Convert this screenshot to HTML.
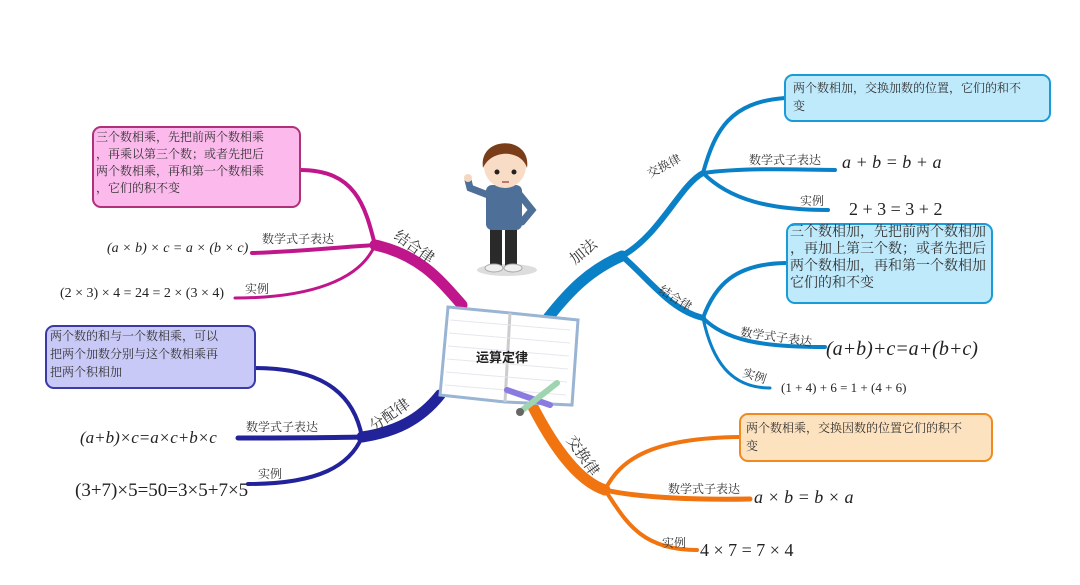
<!DOCTYPE html>
<html><head><meta charset="utf-8"><style>
html,body{margin:0;padding:0;background:#fff;}
svg{display:block;}
text{font-family:"Liberation Serif","Noto Serif CJK SC",serif;fill:#333;}
.cjk{font-family:"Liberation Sans","Noto Sans CJK SC",sans-serif;}
.m{font-family:"Liberation Serif",serif;font-style:italic;fill:#222;}
.n{font-family:"Liberation Serif",serif;fill:#222;}
</style></head><body>
<svg width="1080" height="585" viewBox="0 0 1080 585" xmlns="http://www.w3.org/2000/svg">
<g fill="none" stroke-linecap="round">
 <path d="M548 318 C570 290 590 270 622 256" stroke="#0a80c6" stroke-width="11"/>
 <path d="M622 256 C660 235 680 185 703 173" stroke="#0a80c6" stroke-width="6"/>
 <path d="M622 256 C650 280 670 310 703 318" stroke="#0a80c6" stroke-width="6"/>
 <path d="M703 173 C715 130 730 102 785 98" stroke="#0a80c6" stroke-width="4"/>
 <path d="M703 173 C740 168 790 169 835 170" stroke="#0a80c6" stroke-width="4"/>
 <path d="M703 173 C730 200 770 210 828 210" stroke="#0a80c6" stroke-width="4"/>
 <path d="M703 318 C715 285 735 264 785 263" stroke="#0a80c6" stroke-width="4"/>
 <path d="M703 318 C725 340 760 347 825 347" stroke="#0a80c6" stroke-width="4"/>
 <path d="M703 318 C712 360 730 388 770 388" stroke="#0a80c6" stroke-width="3"/>
 <path d="M532 405 C550 440 575 480 605 490" stroke="#f07410" stroke-width="11"/>
 <path d="M605 490 C620 460 650 438 740 437" stroke="#f07410" stroke-width="4"/>
 <path d="M605 490 C640 498 700 500 750 499" stroke="#f07410" stroke-width="5"/>
 <path d="M605 490 C625 520 640 550 697 550" stroke="#f07410" stroke-width="4"/>
 <path d="M462 305 C440 280 420 255 375 245" stroke="#c0168c" stroke-width="11"/>
 <path d="M375 245 C365 205 355 170 300 170" stroke="#c0168c" stroke-width="4"/>
 <path d="M375 245 C330 248 290 252 252 253" stroke="#c0168c" stroke-width="4"/>
 <path d="M375 245 C360 280 310 298 235 298" stroke="#c0168c" stroke-width="3"/>
 <path d="M440 395 C420 420 395 432 362 437" stroke="#22229a" stroke-width="11"/>
 <path d="M362 437 C355 400 330 368 255 368" stroke="#22229a" stroke-width="4"/>
 <path d="M362 437 C320 438 280 438 238 438" stroke="#22229a" stroke-width="5"/>
 <path d="M362 437 C350 465 320 484 248 484" stroke="#22229a" stroke-width="4"/>
</g>
<rect x="93" y="127" width="207" height="80" rx="8" fill="#fbb9ec" stroke="#b0307a" stroke-width="2"/>
<rect x="46" y="326" width="209" height="62" rx="8" fill="#c9c9f7" stroke="#3a3aa8" stroke-width="2"/>
<rect x="785" y="75" width="265" height="46" rx="8" fill="#bfeafb" stroke="#1a9ad6" stroke-width="2"/>
<rect x="787" y="224" width="205" height="79" rx="8" fill="#bfeafb" stroke="#1a9ad6" stroke-width="2"/>
<rect x="740" y="414" width="252" height="47" rx="8" fill="#fde2bf" stroke="#f08a20" stroke-width="2"/>
<g class="cjk" font-size="12">
 <text x="96" y="141">三个数相乘，先把前两个数相乘</text>
 <text x="96" y="158">，再乘以第三个数；或者先把后</text>
 <text x="96" y="175">两个数相乘，再和第一个数相乘</text>
 <text x="96" y="192">，它们的积不变</text>
 <text x="50" y="340">两个数的和与一个数相乘，可以</text>
 <text x="50" y="358">把两个加数分别与这个数相乘再</text>
 <text x="50" y="376">把两个积相加</text>
 <text x="793" y="92">两个数相加，交换加数的位置，它们的和不</text>
 <text x="793" y="110">变</text>
 <text x="746" y="432">两个数相乘，交换因数的位置它们的积不</text>
 <text x="746" y="450">变</text>
</g>
<g class="cjk" font-size="14">
 <text x="790" y="236">三个数相加，先把前两个数相加</text>
 <text x="790" y="253">，再加上第三个数；或者先把后</text>
 <text x="790" y="270">两个数相加，再和第一个数相加</text>
 <text x="790" y="287">它们的和不变</text>
</g>
<g class="cjk" font-size="12" fill="#444">
 <text x="749" y="164">数学式子表达</text>
 <text x="800" y="205">实例</text>
 <text x="740" y="336" transform="rotate(8 740 336)">数学式子表达</text>
 <text x="742" y="376" transform="rotate(18 742 376)">实例</text>
 <text x="668" y="493">数学式子表达</text>
 <text x="662" y="547">实例</text>
 <text x="262" y="243">数学式子表达</text>
 <text x="245" y="293">实例</text>
 <text x="246" y="431">数学式子表达</text>
 <text x="258" y="478">实例</text>
 <text x="650" y="178" transform="rotate(-28 650 178)">交换律</text>
 <text x="658" y="292" transform="rotate(32 658 292)">结合律</text>
</g>
<g class="cjk" font-size="15" fill="#333">
 <text x="575" y="265" transform="rotate(-40 575 265)">加法</text>
 <text x="566" y="440" transform="rotate(55 566 440)">交换律</text>
 <text x="393" y="238" transform="rotate(35 393 238)">结合律</text>
 <text x="374" y="432" transform="rotate(-35 374 432)">分配律</text>
</g>
<g font-size="18">
 <text class="m" x="842" y="168">a + b = b + a</text>
 <text class="n" x="849" y="215">2 + 3 = 3 + 2</text>
 <text class="m" x="826" y="355" font-size="20">(a+b)+c=a+(b+c)</text>
 <text class="n" x="781" y="392" font-size="13">(1 + 4) + 6 = 1 + (4 + 6)</text>
 <text class="m" x="754" y="503">a × b = b × a</text>
 <text class="n" x="700" y="556">4 × 7 = 7 × 4</text>
 <text class="m" x="107" y="252" font-size="14">(a × b) × c = a × (b × c)</text>
 <text class="n" x="60" y="297" font-size="14">(2 × 3) × 4 = 24 = 2 × (3 × 4)</text>
 <text class="m" x="80" y="443" font-size="17">(a+b)×c=a×c+b×c</text>
 <text class="n" x="75" y="496" font-size="19">(3+7)×5=50=3×5+7×5</text>
</g>
<g>
 <path d="M448 307 L510 313 L578 320 L572 405 L505 402 L440 395 Z" fill="#fff" stroke="#9ab4d4" stroke-width="3"/>
 <line x1="510" y1="313" x2="505" y2="402" stroke="#ccc" stroke-width="3"/>
 <g stroke="#e6e6ee" stroke-width="1">
  <line x1="450" y1="320" x2="570" y2="330"/><line x1="449" y1="333" x2="570" y2="343"/>
  <line x1="448" y1="346" x2="569" y2="356"/><line x1="447" y1="359" x2="568" y2="369"/>
  <line x1="446" y1="372" x2="567" y2="382"/><line x1="445" y1="385" x2="566" y2="395"/>
 </g>
 <text class="cjk" x="476" y="362" font-size="13" font-weight="bold" style="fill:#222">运算定律</text>
 <line x1="507" y1="390" x2="550" y2="405" stroke="#8a7be0" stroke-width="6" stroke-linecap="round"/>
 <line x1="520" y1="412" x2="557" y2="383" stroke="#9fd4b0" stroke-width="6" stroke-linecap="round"/>
 <circle cx="520" cy="412" r="4" fill="#666"/>
</g>
<g>
 <ellipse cx="507" cy="270" rx="30" ry="6" fill="#ddd"/>
 <rect x="490" y="226" width="12" height="42" fill="#2a2a2a"/>
 <rect x="505" y="226" width="12" height="42" fill="#2a2a2a"/>
 <ellipse cx="494" cy="268" rx="9" ry="4" fill="#f0f0f0" stroke="#aaa"/>
 <ellipse cx="513" cy="268" rx="9" ry="4" fill="#f0f0f0" stroke="#aaa"/>
 <rect x="486" y="185" width="36" height="45" rx="6" fill="#4e6f98"/>
 <path d="M488 195 L470 188 L468 180" stroke="#4e6f98" stroke-width="7" fill="none" stroke-linecap="round"/>
 <circle cx="468" cy="178" r="4" fill="#f5d7c0"/>
 <path d="M520 195 L532 210 L522 222" stroke="#4e6f98" stroke-width="7" fill="none" stroke-linecap="round"/>
 <ellipse cx="505" cy="166" rx="21" ry="22" fill="#f8dcc6"/>
 <path d="M483 168 C478 135 532 135 527 168 C522 150 492 148 483 168 Z" fill="#7a3d1a"/>
 <circle cx="497" cy="172" r="2.5" fill="#222"/>
 <circle cx="514" cy="172" r="2.5" fill="#222"/>
 <line x1="502" y1="182" x2="509" y2="182" stroke="#a55" stroke-width="1.5"/>
</g>
</svg>
</body></html>
